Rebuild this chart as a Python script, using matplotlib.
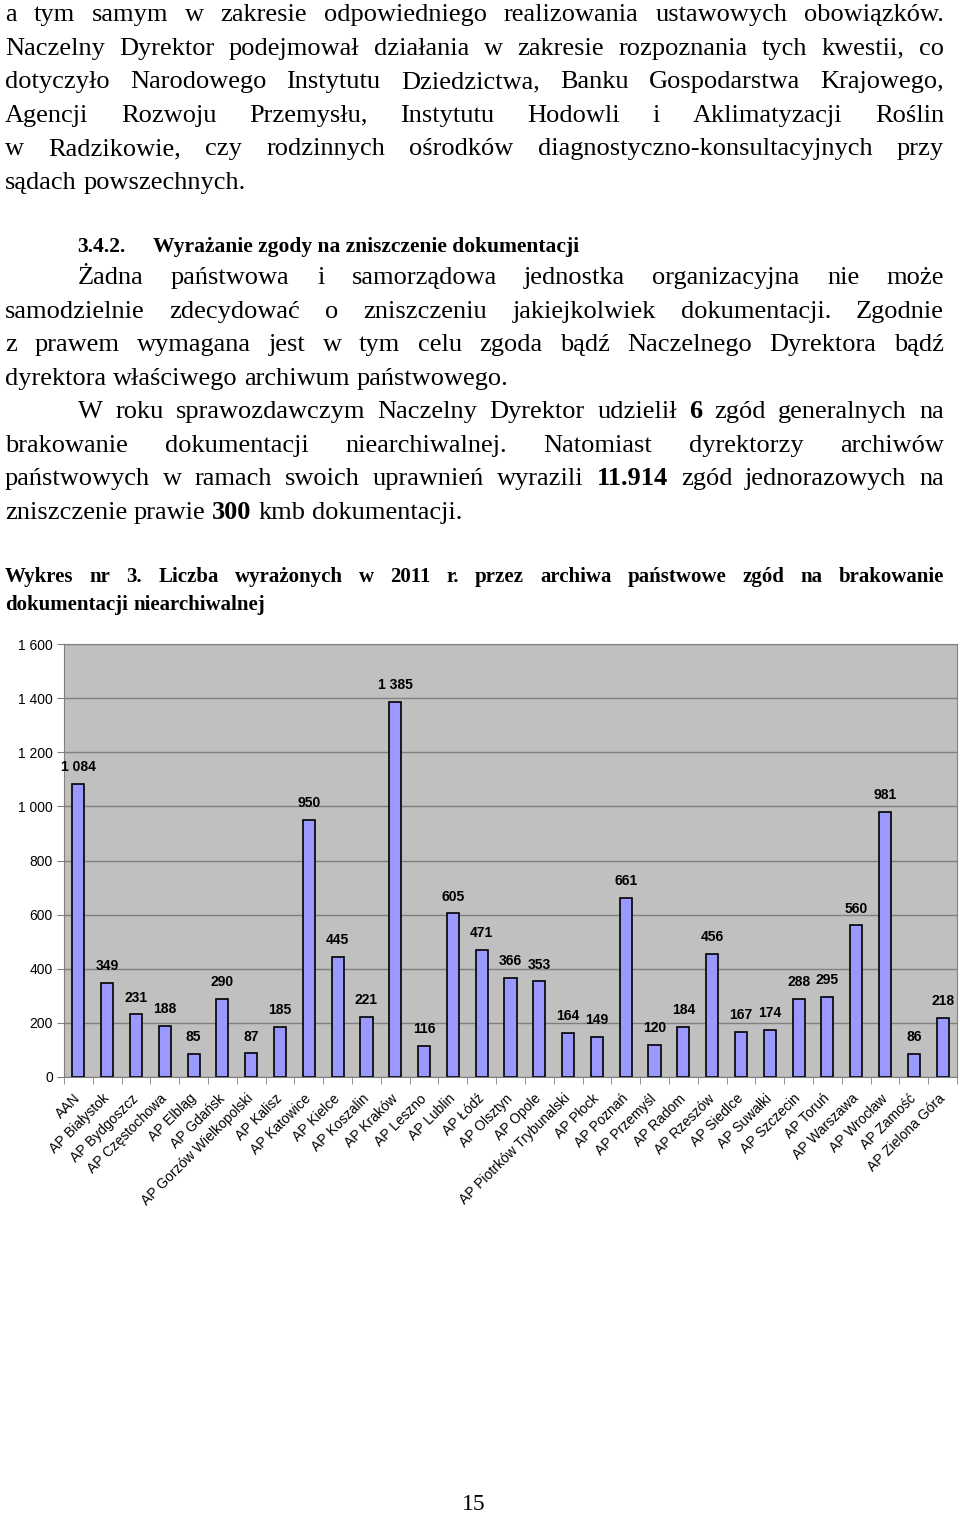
import matplotlib
matplotlib.use("Agg")
import matplotlib.pyplot as plt
import numpy as np

W, H = 960, 1514

archives = ["AAN", "AP Białystok", "AP Bydgoszcz", "AP Częstochowa", "AP Elbląg",
            "AP Gdańsk", "AP Gorzów Wielkopolski", "AP Kalisz", "AP Katowice",
            "AP Kielce", "AP Koszalin", "AP Kraków", "AP Leszno", "AP Lublin",
            "AP Łódź", "AP Olsztyn", "AP Opole", "AP Piotrków Trybunalski",
            "AP Płock", "AP Poznań", "AP Przemyśl", "AP Radom", "AP Rzeszów",
            "AP Siedlce", "AP Suwałki", "AP Szczecin", "AP Toruń", "AP Warszawa",
            "AP Wrocław", "AP Zamość", "AP Zielona Góra"]
consents = [1084, 349, 231, 188, 85, 290, 87, 185, 950, 445, 221, 1385, 116, 605,
            471, 366, 353, 164, 149, 661, 120, 184, 456, 167, 174, 288, 295, 560,
            981, 86, 218]
y_ticks = [0, 200, 400, 600, 800, 1000, 1200, 1400, 1600]

# page text, one entry per printed line; words starting with * are bold
para1 = [
    "a tym samym w zakresie odpowiedniego realizowania ustawowych obowiązków.",
    "Naczelny Dyrektor podejmował działania w zakresie rozpoznania tych kwestii, co",
    "dotyczyło Narodowego Instytutu Dziedzictwa, Banku Gospodarstwa Krajowego,",
    "Agencji Rozwoju Przemysłu, Instytutu Hodowli i Aklimatyzacji Roślin",
    "w Radzikowie, czy rodzinnych ośrodków diagnostyczno-konsultacyjnych przy",
    "sądach powszechnych.",
]
para2 = [
    "Żadna państwowa i samorządowa jednostka organizacyjna nie może",
    "samodzielnie zdecydować o zniszczeniu jakiejkolwiek dokumentacji. Zgodnie",
    "z prawem wymagana jest w tym celu zgoda bądź Naczelnego Dyrektora bądź",
    "dyrektora właściwego archiwum państwowego.",
]
para3 = [
    "W roku sprawozdawczym Naczelny Dyrektor udzielił *6 zgód generalnych na",
    "brakowanie dokumentacji niearchiwalnej. Natomiast dyrektorzy archiwów",
    "państwowych w ramach swoich uprawnień wyrazili *11.914 zgód jednorazowych na",
    "zniszczenie prawie *300 kmb dokumentacji.",
]
caption = [
    "Wykres nr 3. Liczba wyrażonych w 2011 r. przez archiwa państwowe zgód na brakowanie",
    "dokumentacji niearchiwalnej",
]

SERIF = "Liberation Serif"
SANS = "Liberation Sans"

fig = plt.figure(figsize=(W / 100, H / 100), dpi=100)
renderer = fig.canvas.get_renderer()


def text_width(s, size, bold):
    t = fig.text(0, 0, s, fontsize=size, family=SERIF, fontweight="bold" if bold else "normal")
    w = t.get_window_extent(renderer).width
    t.remove()
    return w


def put_line(line, y, x0, x1, justify, size, bold=False):
    texts = []
    for w in line.split(" "):
        b = bold or w.startswith("*")
        t = fig.text(0, 1 - y / H, w.lstrip("*"), fontsize=size, family=SERIF,
                     fontweight="bold" if b else "normal", va="baseline", ha="left")
        texts.append(t)
    widths = [t.get_window_extent(renderer).width for t in texts]
    if justify and len(texts) > 1:
        gap = (x1 - x0 - sum(widths)) / (len(texts) - 1)
    else:
        gap = text_width("a a", size, bold) - 2 * text_width("a", size, bold)
    x = x0
    for t, w in zip(texts, widths):
        t.set_x(x / W)
        x += w + gap


body = 19
lh = 33.6
for i, line in enumerate(para1):
    put_line(line, 21 + i * lh, 5, 944, i < len(para1) - 1, body)

fig.text(77 / W, 1 - 252 / H, "3.4.2.", fontsize=15.5, family=SERIF, fontweight="bold", va="baseline")
fig.text(153 / W, 1 - 252 / H, "Wyrażanie zgody na zniszczenie dokumentacji", fontsize=15.5,
         family=SERIF, fontweight="bold", va="baseline")

for i, line in enumerate(para2):
    put_line(line, 284 + i * lh, 78 if i == 0 else 5, 944, i < len(para2) - 1, body)
for i, line in enumerate(para3):
    put_line(line, 418 + i * lh, 78 if i == 0 else 5, 944, i < len(para3) - 1, body)
put_line(caption[0], 582, 5, 944, True, 15, bold=True)
put_line(caption[1], 610, 5, 944, False, 15, bold=True)

fig.text(474 / W, 1 - 1510 / H, "15", fontsize=17, family=SERIF, ha="center", va="baseline")

# chart
ax = fig.add_axes([64 / W, 1 - 1077 / H, (957 - 64) / W, (1077 - 644) / H])
ax.set_facecolor("#c0c0c0")
x = np.arange(len(archives))
ax.bar(x, consents, width=0.42, color="#9999ff", edgecolor="black", linewidth=1.2, zorder=3)
ax.set_xlim(-0.5, len(archives) - 0.5)
ax.set_ylim(0, 1600)
ax.set_yticks(y_ticks)
ax.set_yticklabels([f"{v:,}".replace(",", " ") for v in y_ticks], fontsize=10, family=SANS)
ax.yaxis.grid(True, color="#808080", linewidth=1, zorder=0)
ax.tick_params(axis="y", length=5, color="#808080", pad=3)
for s in ax.spines.values():
    s.set_color("#808080")

ax.set_xticks(x)
ax.set_xticklabels(archives, rotation=45, ha="right", va="center", rotation_mode="anchor",
                   fontsize=10, family=SANS)
ax.tick_params(axis="x", which="major", length=0, pad=14)
ax.set_xticks(np.arange(len(archives) + 1) - 0.5, minor=True)
ax.tick_params(axis="x", which="minor", length=5, color="#808080")

for xi, v in zip(x, consents):
    ax.annotate(f"{v:,}".replace(",", " "), (xi, v), xytext=(0, 7), textcoords="offset points",
                ha="center", va="bottom", fontsize=10, fontweight="bold", family=SANS)

fig.savefig("out.png", dpi=100, facecolor="white")
